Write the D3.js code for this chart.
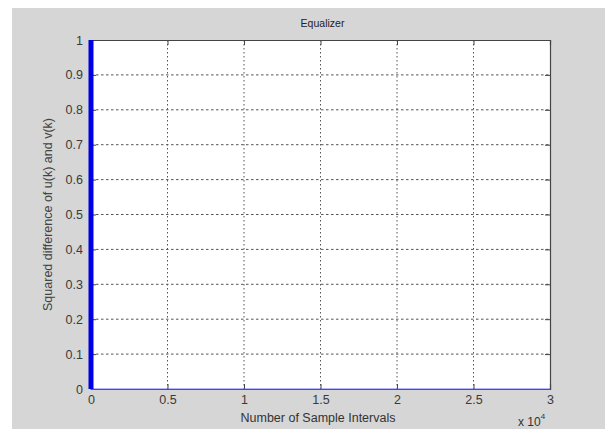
<!DOCTYPE html>
<html>
<head>
<meta charset="utf-8">
<script src="https://cdn.jsdelivr.net/npm/d3@7"></script>
<style>
  body { margin: 0; background: #fff; }
  text { font-family: "Liberation Sans", Arial, sans-serif; }
</style>
</head>
<body>
<svg id="fig"></svg>
<script>
/* chart data */
var sampleK = [0, 0, 0, 30000];          // number of sample intervals
var sqDiff = [1, 0.5, 0, 0];             // squared difference u(k)-v(k)
var xTicks = [0, 5000, 10000, 15000, 20000, 25000, 30000];
var xTickLabels = ['0', '0.5', '1', '1.5', '2', '2.5', '3'];
var yTicks = [0, 0.1, 0.2, 0.3, 0.4, 0.5, 0.6, 0.7, 0.8, 0.9, 1];
var yTickLabels = ['0', '0.1', '0.2', '0.3', '0.4', '0.5', '0.6', '0.7', '0.8', '0.9', '1'];

var W = 610, H = 429;
var box = {left: 91, top: 40, right: 550, bottom: 389};

var svg = d3.select('#fig').attr('width', W).attr('height', H);

/* figure background */
svg.append('rect')
    .attr('x', 12).attr('y', 8)
    .attr('width', 593).attr('height', H - 8)
    .style('fill', '#d6d6d6');

var x = d3.scaleLinear().domain([0, 30000]).range([box.left, box.right]);
var y = d3.scaleLinear().domain([0, 1]).range([box.bottom, box.top]);

svg.append('rect')
    .attr('x', box.left).attr('y', box.top)
    .attr('width', box.right - box.left).attr('height', box.bottom - box.top)
    .style('fill', '#fff');

/* dotted grid */
var grid = svg.append('g').attr('class', 'grid');
grid.selectAll('line.gx')
    .data(xTicks.slice(1, -1))
    .enter().append('line')
    .attr('x1', d => x(d)).attr('x2', d => x(d))
    .attr('y1', box.top).attr('y2', box.bottom)
    .style('stroke', '#555').style('stroke-dasharray', '1.5,2.5');
grid.selectAll('line.gy')
    .data(yTicks.slice(1, -1))
    .enter().append('line')
    .attr('y1', d => y(d)).attr('y2', d => y(d))
    .attr('x1', box.left).attr('x2', box.right)
    .style('stroke', '#555').style('stroke-dasharray', '2.5,2.5');

/* axes: bottom/left with labels, top/right tick marks only */
var tickLen = 5;
var axB = svg.append('g').attr('transform', `translate(0,${box.bottom})`)
    .call(d3.axisBottom(x).tickValues(xTicks).tickSize(-tickLen).tickPadding(6)
        .tickFormat((d, i) => xTickLabels[i]));
var axL = svg.append('g').attr('transform', `translate(${box.left},0)`)
    .call(d3.axisLeft(y).tickValues(yTicks).tickSize(-tickLen).tickPadding(8)
        .tickFormat((d, i) => yTickLabels[i]));
var axT = svg.append('g').attr('transform', `translate(0,${box.top})`)
    .call(d3.axisTop(x).tickValues(xTicks).tickSize(-tickLen).tickFormat(''));
var axR = svg.append('g').attr('transform', `translate(${box.right},0)`)
    .call(d3.axisRight(y).tickValues(yTicks).tickSize(-tickLen).tickFormat(''));

[axB, axL, axT, axR].forEach(function(a){
    a.selectAll('.domain').style('stroke', '#444').style('stroke-width', 1.2);
    a.selectAll('.tick line').style('stroke', '#444');
    a.selectAll('.tick text').style('fill', '#3a3a3a').style('font-size', '12.5px');
});

/* data line */
var line = d3.line().x((d, i) => x(sampleK[i])).y(d => y(d));
svg.append('path')
    .datum(sqDiff)
    .attr('d', line)
    .style('fill', 'none')
    .style('stroke', '#6060ff')
    .style('stroke-width', 1.5)
    .style('stroke-opacity', 0.6);
var atStart = sqDiff.filter((d, i) => sampleK[i] === 0);
svg.append('path')
    .datum(atStart)
    .attr('d', d3.line().x(() => x(0)).y(d => y(d)))
    .style('fill', 'none')
    .style('stroke', '#0000e6')
    .style('stroke-width', 5);

/* texts */
svg.append('text')
    .attr('x', (box.left + box.right) / 2 + 2).attr('y', 27)
    .attr('text-anchor', 'middle')
    .style('font-size', '10.5px').style('fill', '#222')
    .text('Equalizer');

svg.append('text')
    .attr('x', 318).attr('y', 422)
    .attr('text-anchor', 'middle')
    .style('font-size', '12.5px').style('fill', '#333')
    .text('Number of Sample Intervals');

var ex = svg.append('text')
    .attr('x', 518).attr('y', 426)
    .style('font-size', '12px').style('fill', '#333');
ex.append('tspan').text('x 10');
ex.append('tspan').attr('dy', -7).style('font-size', '8px').text('4');

svg.append('text')
    .attr('transform', `translate(52,${(box.top + box.bottom) / 2}) rotate(-90)`)
    .attr('text-anchor', 'middle')
    .style('font-size', '12.5px').style('fill', '#444')
    .text('Squared difference of u(k) and v(k)');
</script>
</body>
</html>
